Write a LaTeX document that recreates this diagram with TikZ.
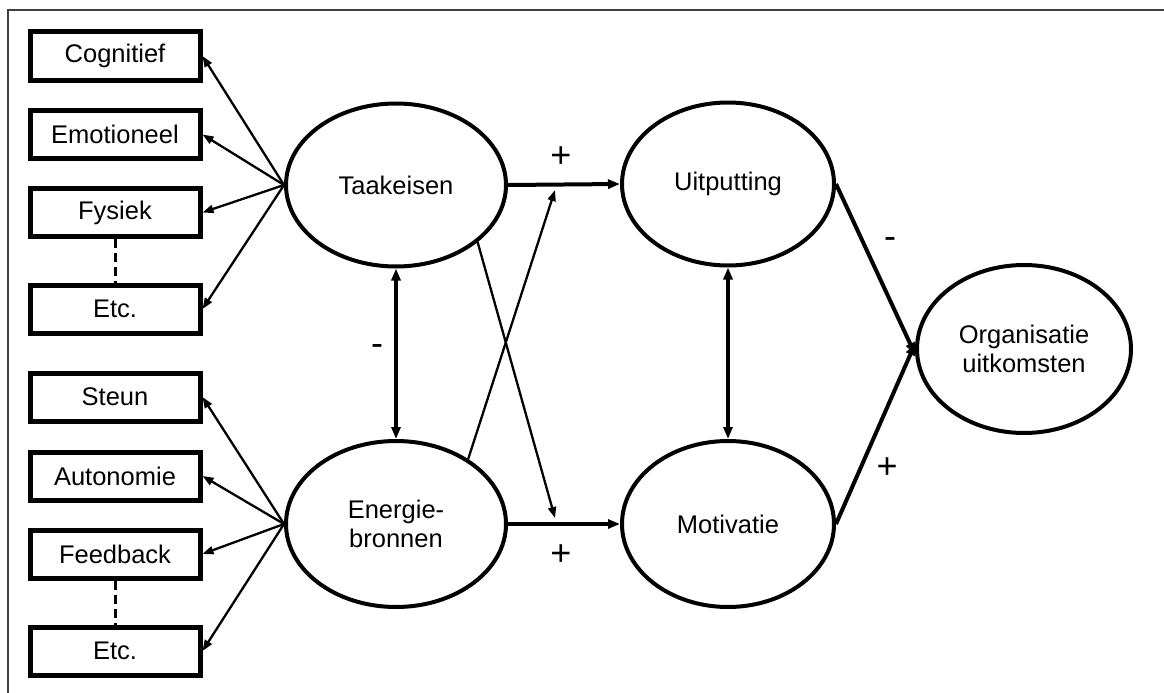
\documentclass[tikz,border=0pt]{standalone}
\usepackage{fontspec}
\setmainfont{Liberation Sans}
\usetikzlibrary{arrows.meta,shapes.geometric}
\begin{document}
\begin{tikzpicture}[x=1pt,y=-1pt,
  font=\fontsize{25.5}{28.5}\selectfont,
  box/.style={draw,line width=5pt,minimum width=170pt,minimum height=48pt,inner sep=0pt},
  oval/.style={draw,ellipse,line width=4pt,inner sep=0pt,align=center},
  thin arr/.style={line width=2.3pt,-{Triangle[length=11pt,width=8pt]}},
  thick arr/.style={line width=4pt,-{Triangle[length=12pt,width=9pt]}},
  thick dbl/.style={line width=4pt,{Triangle[length=12pt,width=9pt]}-{Triangle[length=12pt,width=9pt]}},
  sign/.style={inner sep=0pt,font=\fontsize{36}{36}\selectfont}]
\useasboundingbox (0,0) rectangle (1164,693);
% partial frame
\draw[line width=1.5pt,black!75] (8,693) -- (8,10) -- (1164,10);
% boxes
\node[box] (cog) at (115,56) {Cognitief};
\node[box] (emo) at (115,134.5) {Emotioneel};
\node[box] (fys) at (115,212.5) {Fysiek};
\node[box] (etc1) at (115,309) {Etc.};
\node[box] (ste) at (115,397) {Steun};
\node[box] (aut) at (115,476) {Autonomie};
\node[box] (fee) at (115,554) {Feedback};
\node[box] (etc2) at (115,651) {Etc.};
\draw[line width=3pt,dash pattern=on 9pt off 5pt] (fys.south) -- (etc1.north);
\draw[line width=3pt,dash pattern=on 9pt off 5pt] (fee.south) -- (etc2.north);
% ellipses
\node[oval,minimum width=220pt,minimum height=163pt] (T) at (396,185) {Taakeisen};
\node[oval,minimum width=220pt,minimum height=166pt] (E) at (396,524) {Energie-\\bronnen};
\node[oval,minimum width=212pt,minimum height=163pt] (U) at (728,184) {Uitputting};
\node[oval,minimum width=212pt,minimum height=166pt] (M) at (728,524) {Motivatie};
\node[oval,minimum width=214pt,minimum height=168pt] (O) at (1024,349) {Organisatie\\uitkomsten};
% fan arrows
\foreach \b in {cog,emo,fys,etc1} \draw[thin arr] (T.west) -- (\b.east);
\foreach \b in {ste,aut,fee,etc2} \draw[thin arr] (E.west) -- (\b.east);
% main arrows
\draw[thick arr] (T.east) -- (U.west);
\draw[thick arr] (E.east) -- (M.west);
\draw[thick dbl] (T.south) -- (E.north);
\draw[thick dbl] (U.south) -- (M.north);
\coordinate (up) at (555,190);
\coordinate (dn) at (555,518);
\draw[thin arr] (T.-35) -- (dn);
\draw[thin arr] (E.42) -- (up);
\draw[thick arr] (U.east) -- (O.183);
\draw[thick arr] (M.east) -- (O.177);
% signs
\node[sign] (p1) at (561,157) {+};
\node[sign] (p2) at (561,555) {+};
\node[sign] (m1) at (377,350) {-};
\node[sign] (m2) at (890,243) {-};
\node[sign] (p3) at (887,468) {+};
\end{tikzpicture}
\end{document}
